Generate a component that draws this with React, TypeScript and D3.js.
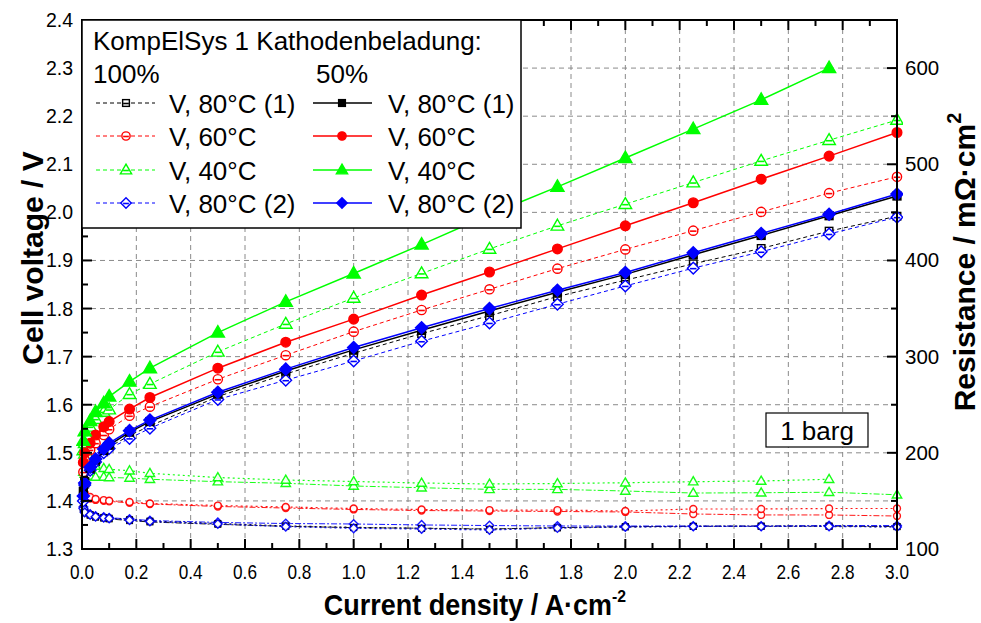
import React from "react";
import * as d3 from "d3";

// Current density (A/cm²)
const CURRENT = [0.005, 0.01, 0.03, 0.05, 0.08, 0.1, 0.175, 0.25, 0.5, 0.75, 1.0, 1.25, 1.5, 1.75, 2.0, 2.25, 2.5, 2.75, 3.0];

// Cell voltage (V) - 100 % cathode loading
const V100_80_1 = [1.41, 1.435, 1.465, 1.482, 1.502, 1.512, 1.536, 1.556, 1.617, 1.664, 1.707, 1.748, 1.785, 1.825, 1.859, 1.893, 1.925, 1.961, 1.992];
const V100_60 = [1.46, 1.485, 1.506, 1.52, 1.537, 1.549, 1.577, 1.596, 1.653, 1.703, 1.752, 1.797, 1.84, 1.883, 1.923, 1.962, 2.001, 2.04, 2.074];
const V100_40 = [1.505, 1.52, 1.554, 1.57, 1.585, 1.59, 1.622, 1.643, 1.71, 1.768, 1.822, 1.873, 1.924, 1.972, 2.017, 2.062, 2.107, 2.15, 2.192];
const V100_80_2 = [1.4, 1.433, 1.464, 1.481, 1.5, 1.509, 1.53, 1.551, 1.611, 1.651, 1.691, 1.732, 1.77, 1.809, 1.847, 1.884, 1.918, 1.955, 1.99];
// Cell voltage (V) - 50 % cathode loading
const V50_80_1 = [1.42, 1.44, 1.468, 1.485, 1.505, 1.516, 1.543, 1.565, 1.622, 1.67, 1.714, 1.755, 1.795, 1.834, 1.871, 1.912, 1.952, 1.993, 2.034];
const V50_60 = [1.48, 1.5, 1.52, 1.537, 1.554, 1.565, 1.591, 1.615, 1.676, 1.73, 1.778, 1.828, 1.876, 1.924, 1.972, 2.02, 2.069, 2.117, 2.166];
const V50_40 = [1.525, 1.545, 1.566, 1.585, 1.603, 1.617, 1.648, 1.676, 1.75, 1.814, 1.873, 1.933, 1.995, 2.053, 2.113, 2.173, 2.234, 2.3];
const V50_80_2 = [1.41, 1.437, 1.47, 1.487, 1.508, 1.52, 1.546, 1.568, 1.626, 1.674, 1.719, 1.76, 1.8, 1.838, 1.875, 1.916, 1.956, 1.996, 2.038];

// Resistance (mOhm cm²)
const R100_80_1 = [141.5, 137.5, 135, 133, 132, 131.3, 129.5, 128.1, 125.6, 123.6, 122.2, 121.6, 120.8, 122.2, 123.2, 123.6, 123.8, 123.8, 123.4];
const R100_60 = [157, 155.1, 152.5, 151, 150, 149.5, 148, 146.8, 144.2, 142.6, 141.1, 140, 139.5, 139, 138.5, 136.4, 135.4, 135.4, 134.3];
const R100_40 = [180, 178, 175.9, 174.9, 174.9, 174.3, 173.8, 172.5, 170, 168.3, 165.5, 163.7, 162, 162, 160.3, 158.2, 158.5, 159, 156.4];
const R100_80_2 = [143.7, 139.5, 136.4, 134.3, 133.3, 132.5, 131.2, 129.6, 127.6, 126.5, 126, 125, 124.4, 123.9, 123.9, 123.9, 123.9, 124.4, 124.4];
const R50_80_1 = [142.5, 138.5, 135.8, 133.8, 132.8, 132, 130.5, 129, 126.5, 124, 122.5, 121.5, 120.5, 122, 123, 123.5, 123.6, 123.6, 123.2];
const R50_60 = [160, 158.2, 154.1, 152, 150.9, 150.2, 148.9, 147.3, 145.2, 143.7, 142.1, 141.1, 140.5, 140.5, 139.5, 141.6, 141.6, 142.1, 142.1];
const R50_40 = [198, 194.6, 189.4, 186.3, 183.9, 182.9, 181.4, 178.7, 174.3, 171.7, 170.2, 168.6, 167.6, 168.1, 168.9, 170, 170.7, 172.5];
const R50_80_2 = [142, 138, 135.5, 133.5, 132.5, 131.8, 130, 128.6, 126, 123.2, 121.5, 120.8, 119.8, 121.8, 122.9, 123.4, 123.4, 123.4, 122.9];

const X_TICKS = [0, 0.2, 0.4, 0.6, 0.8, 1.0, 1.2, 1.4, 1.6, 1.8, 2.0, 2.2, 2.4, 2.6, 2.8, 3.0];
const X_TICK_LABELS = ["0.0", "0.2", "0.4", "0.6", "0.8", "1.0", "1.2", "1.4", "1.6", "1.8", "2.0", "2.2", "2.4", "2.6", "2.8", "3.0"];
const V_TICKS = [1.3, 1.4, 1.5, 1.6, 1.7, 1.8, 1.9, 2.0, 2.1, 2.2, 2.3, 2.4];
const V_TICK_LABELS = ["1.3", "1.4", "1.5", "1.6", "1.7", "1.8", "1.9", "2.0", "2.1", "2.2", "2.3", "2.4"];
const R_TICKS = [100, 200, 300, 400, 500, 600];
const R_TICK_LABELS = ["100", "200", "300", "400", "500", "600"];

const LEGEND_TITLE = "KompElSys 1 Kathodenbeladung:";
const LEGEND_GROUPS = ["100%", "50%"];
const SERIES_LABELS = ["V, 80°C (1)", "V, 60°C", "V, 40°C", "V, 80°C (2)"];
const SERIES_COLORS = ["#000000", "#ff0000", "#00ff00", "#0000ff"];
const SERIES_SHAPES = ["square", "circle", "triangle", "diamond"];

const V100 = [V100_80_1, V100_60, V100_40, V100_80_2];
const V50 = [V50_80_1, V50_60, V50_40, V50_80_2];
const R100 = [R100_80_1, R100_60, R100_40, R100_80_2];
const R50 = [R50_80_1, R50_60, R50_40, R50_80_2];

const W = 981;
const H = 623;
const L = 82, R = 897, T = 20, B = 549;

const x = d3.scaleLinear().domain([0, 3]).range([L, R]);
const yV = d3.scaleLinear().domain([1.3, 2.4]).range([B, T]);
const yR = d3.scaleLinear().domain([100, 650]).range([B, T]);

const FONT = "Arial, 'Liberation Sans', Helvetica, sans-serif";

function Marker({ shape, cx, cy, color, filled, size = 1, bar = false }: any) {
  const fill = filled ? color : "#ffffff";
  const sw = 1.4;
  let el: any = null;
  if (shape === "square") {
    const s = 7.5 * size;
    el = <rect x={cx - s / 2} y={cy - s / 2} width={s} height={s} fill={fill} stroke={color} strokeWidth={sw} />;
  } else if (shape === "circle") {
    el = <circle cx={cx} cy={cy} r={4.6 * size} fill={fill} stroke={color} strokeWidth={sw} />;
  } else if (shape === "triangle") {
    const s = 6.6 * size;
    const p = `${cx},${cy - s} ${cx + s * 0.95},${cy + s * 0.65} ${cx - s * 0.95},${cy + s * 0.65}`;
    el = <polygon points={p} fill={fill} stroke={color} strokeWidth={sw} strokeLinejoin="miter" />;
  } else {
    const s = 5.8 * size;
    const p = `${cx},${cy - s} ${cx + s},${cy} ${cx},${cy + s} ${cx - s},${cy}`;
    el = <polygon points={p} fill={fill} stroke={color} strokeWidth={sw} />;
  }
  const half = 3.2 * size;
  return (
    <g>
      {el}
      {bar && !filled ? <line x1={cx - half} x2={cx + half} y1={cy + 0.5} y2={cy + 0.5} stroke={color} strokeWidth={1.6} /> : null}
    </g>
  );
}

function Series({ values, yScale, color, shape, filled, dash, width, msize, bar, opacity = 1 }: any) {
  const pts = values.map((v: number, i: number) => [x(CURRENT[i]), yScale(v)]);
  const line = d3.line()(pts as any) as string;
  return (
    <g opacity={opacity}>
      <path d={line} fill="none" stroke={color} strokeWidth={width} strokeDasharray={dash} />
      {pts.map((p: number[], i: number) => (
        <Marker key={i} shape={shape} cx={p[0]} cy={p[1]} color={color} filled={filled} size={msize} bar={bar} />
      ))}
    </g>
  );
}

export default function App() {
  const minorX = d3.range(0.1, 3, 0.2);
  const minorV = d3.range(1.35, 2.4, 0.1);
  const minorR = [150, 250, 350, 450, 550, 650];
  const gridX = X_TICKS.filter((t) => t > 0 && t < 3);
  const gridV = V_TICKS.filter((t) => t > 1.3 && t < 2.4);

  const legendRows = [103, 136, 170, 203];

  return (
    <svg width={W} height={H} style={{ position: "absolute", left: 0, top: 0, background: "#fff" }} fontFamily={FONT}>
      <defs>
        <clipPath id="plotclip">
          <rect x={L - 6} y={T} width={R - L + 12} height={B - T} />
        </clipPath>
      </defs>
      <rect x={0} y={0} width={W} height={H} fill="#fff" />
      {/* grid */}
      <g stroke="#8a8a8a" strokeWidth={1} strokeDasharray="5,4">
        {gridX.map((t) => (
          <line key={"gx" + t} x1={x(t)} x2={x(t)} y1={T} y2={B} />
        ))}
        {gridV.map((t) => (
          <line key={"gy" + t} x1={L} x2={R} y1={yV(t)} y2={yV(t)} />
        ))}
      </g>

      <g clipPath="url(#plotclip)">
        {/* resistance curves */}
        {[0, 3, 1, 2].map((i) => (
          <Series key={"r100" + i} values={R100[i]} yScale={yR} color={SERIES_COLORS[i]} shape={SERIES_SHAPES[i]} filled={false} dash="6,2,2,2" width={1} msize={0.75} opacity={0.9} />
        ))}
        {[0, 3, 1, 2].map((i) => (
          <Series key={"r50" + i} values={R50[i]} yScale={yR} color={SERIES_COLORS[i]} shape={SERIES_SHAPES[i]} filled={false} dash="2,3" width={1.2} msize={0.75} opacity={0.9} />
        ))}
        {/* voltage curves 100% */}
        {[0, 1, 2, 3].map((i) => (
          <Series key={"v100" + i} values={V100[i]} yScale={yV} color={SERIES_COLORS[i]} shape={SERIES_SHAPES[i]} filled={false} dash="4,3" width={1} msize={1} bar={true} />
        ))}
        {/* voltage curves 50% */}
        {[0, 1, 2, 3].map((i) => (
          <Series key={"v50" + i} values={V50[i]} yScale={yV} color={SERIES_COLORS[i]} shape={SERIES_SHAPES[i]} filled={true} width={1.5} msize={1.05} />
        ))}
      </g>

      {/* axes frame */}
      <rect x={L} y={T} width={R - L} height={B - T} fill="none" stroke="#000" strokeWidth={2} />
      <g stroke="#000" strokeWidth={2}>
        {X_TICKS.map((t) => (
          <g key={"xt" + t}>
            <line x1={x(t)} x2={x(t)} y1={B} y2={B - 10} />
            <line x1={x(t)} x2={x(t)} y1={T} y2={T + 10} />
          </g>
        ))}
        {minorX.map((t) => (
          <g key={"xm" + t}>
            <line x1={x(t)} x2={x(t)} y1={B} y2={B - 6} />
            <line x1={x(t)} x2={x(t)} y1={T} y2={T + 6} />
          </g>
        ))}
        {V_TICKS.map((t) => (
          <line key={"vt" + t} x1={L} x2={L + 10} y1={yV(t)} y2={yV(t)} />
        ))}
        {minorV.map((t) => (
          <line key={"vm" + t} x1={L} x2={L + 6} y1={yV(t)} y2={yV(t)} />
        ))}
        {R_TICKS.map((t) => (
          <line key={"rt" + t} x1={R} x2={R - 10} y1={yR(t)} y2={yR(t)} />
        ))}
        {minorR.map((t) => (
          <line key={"rm" + t} x1={R} x2={R - 6} y1={yR(t)} y2={yR(t)} />
        ))}
      </g>

      {/* tick labels */}
      <g fill="#000">
        {V_TICKS.map((t, i) => (
          <text key={"vl" + t} x={73} y={yV(t) + 7} textAnchor="end" fontSize={19.5}>{V_TICK_LABELS[i]}</text>
        ))}
        {R_TICKS.map((t, i) => (
          <text key={"rl" + t} x={905} y={yR(t) + 7} textAnchor="start" fontSize={20.5}>{R_TICK_LABELS[i]}</text>
        ))}
        {X_TICKS.map((t, i) => (
          <text key={"xl" + t} transform={`translate(${x(t)},579) scale(0.86,1)`} textAnchor="middle" fontSize={20}>{X_TICK_LABELS[i]}</text>
        ))}
      </g>

      {/* axis titles */}
      <text transform="translate(43,258) rotate(-90)" textAnchor="middle" fontSize={30} fontWeight="bold">Cell voltage / V</text>
      <text transform="translate(975,262) rotate(-90)" textAnchor="middle" fontSize={30} fontWeight="bold">
        Resistance / mΩ·cm<tspan fontSize={20} dy={-14}>2</tspan>
      </text>
      <text transform="translate(475,615) scale(0.93,1)" textAnchor="middle" fontSize={29} fontWeight="bold">
        Current density / A·cm<tspan fontSize={17} dy={-13}>-2</tspan>
      </text>

      {/* legend */}
      <rect x={L} y={T} width={439} height={208} fill="#fff" stroke="#000" strokeWidth={1.5} />
      <g fontSize={26} fill="#000">
        <text x={93} y={50}>{LEGEND_TITLE}</text>
        <text x={93} y={83}>{LEGEND_GROUPS[0]}</text>
        <text x={316} y={83}>{LEGEND_GROUPS[1]}</text>
        {SERIES_LABELS.map((lab, i) => (
          <g key={"lg" + i}>
            <line x1={96} x2={155} y1={legendRows[i]} y2={legendRows[i]} stroke={SERIES_COLORS[i]} strokeWidth={1} strokeDasharray="4,3" />
            <Marker shape={SERIES_SHAPES[i]} cx={126} cy={legendRows[i]} color={SERIES_COLORS[i]} filled={false} size={0.9} bar={true} />
            <text x={169} y={legendRows[i] + 9.5}>{lab}</text>
            <line x1={313} x2={372} y1={legendRows[i]} y2={legendRows[i]} stroke={SERIES_COLORS[i]} strokeWidth={1.5} />
            <Marker shape={SERIES_SHAPES[i]} cx={342} cy={legendRows[i]} color={SERIES_COLORS[i]} filled={true} size={0.9} />
            <text x={388} y={legendRows[i] + 9.5}>{lab}</text>
          </g>
        ))}
      </g>

      {/* 1 barg box */}
      <rect x={766} y={413} width={102} height={34} fill="#fff" stroke="#000" strokeWidth={1.2} />
      <text x={817} y={440} textAnchor="middle" fontSize={26}>1 barg</text>
    </svg>
  );
}
